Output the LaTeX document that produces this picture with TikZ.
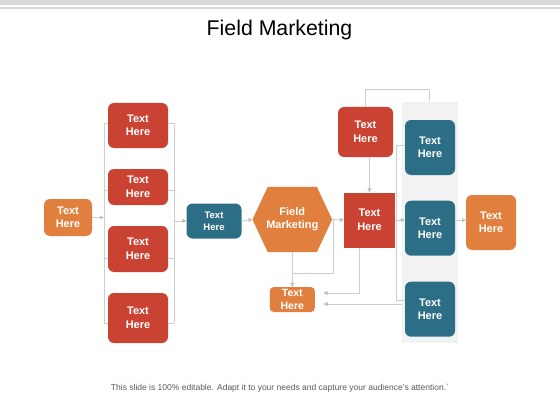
\documentclass[tikz,border=0pt]{standalone}
\usepackage{fontspec}
\setmainfont{Liberation Sans}
\usetikzlibrary{arrows.meta,calc,backgrounds}
\definecolor{cred}{RGB}{201,66,50}
\definecolor{corange}{RGB}{225,128,62}
\definecolor{cteal}{RGB}{45,110,135}
\definecolor{cline}{RGB}{205,205,205}
\definecolor{carrow}{RGB}{190,190,190}
\definecolor{cpanel}{RGB}{242,242,242}
\definecolor{cbar}{RGB}{217,217,217}
\begin{document}
\begin{tikzpicture}[x=1pt,y=-1pt,
  box/.style={rounded corners=6pt, text=white, font=\bfseries\fontsize{11}{13.5}\selectfont, align=center, inner sep=0pt},
  redbox/.style={box, fill=cred},
  orbox/.style={box, fill=corange},
  tealbox/.style={box, fill=cteal},
  conn/.style={draw=cline, line width=0.8pt},
  arr/.style={conn, -{Triangle[length=4pt,width=4pt,color=carrow]}}
]
\useasboundingbox (0,0) rectangle (560,420);
\fill[cbar] (0,0) rectangle (560,5);
\fill[cbar] (0,7.3) rectangle (560,9.3);
\node[font=\fontsize{21.3}{25}\selectfont] (title) at (279.5,29.5) {Field Marketing};

% panel
\node[fill=cpanel, minimum width=55.7pt, minimum height=241.3pt, inner sep=0pt] (panel) at (429.85,222.35) {};

% left part
\node[orbox, minimum width=48pt, minimum height=37pt] (L) at (68,217.5) {Text\\Here};
\node[redbox, minimum width=60pt, minimum height=45pt] (R1) at (138,125.5) {Text\\Here};
\node[redbox, minimum width=60pt, minimum height=36pt] (R2) at (138,187) {Text\\Here};
\node[redbox, minimum width=60pt, minimum height=46pt] (R3) at (138,249) {Text\\Here};
\node[redbox, minimum width=60pt, minimum height=50pt] (R4) at (138,318) {Text\\Here};
\node[tealbox, minimum width=55pt, minimum height=35pt, font=\bfseries\fontsize{9.5}{11.7}\selectfont] (B1) at (214,221) {Text\\Here};

% hexagon
\node[minimum width=79.3pt, minimum height=65pt, inner sep=0pt, text=white, align=center, font=\bfseries\fontsize{11}{13.3}\selectfont] (H) at (292.3,219.5) {Field\\Marketing};
\begin{scope}[on background layer]
\fill[corange] (H.west) -- ($(H.north west)+(15.3,0)$) -- ($(H.north east)+(-15.3,0)$) -- (H.east) -- ($(H.south east)+(-15.3,0)$) -- ($(H.south west)+(15.3,0)$) -- cycle;
\end{scope}

\node[orbox, rounded corners=4pt, minimum width=45pt, minimum height=25pt, font=\bfseries\fontsize{10.5}{13.3}\selectfont] (O2) at (292.3,299.5) {Text\\Here};

% right part
\node[fill=cred, text=white, font=\bfseries\fontsize{11}{13.5}\selectfont, align=center, inner sep=0pt, minimum width=51pt, minimum height=55pt] (S) at (369.5,220) {Text\\Here};
\node[redbox, minimum width=55pt, minimum height=50pt] (T) at (365.5,132) {Text\\Here};
\node[tealbox, minimum width=50pt, minimum height=55pt] (P1) at (430,147.5) {Text\\Here};
\node[tealbox, minimum width=50pt, minimum height=55pt] (P2) at (430,228.2) {Text\\Here};
\node[tealbox, minimum width=50pt, minimum height=55pt] (P3) at (430,309.2) {Text\\Here};
\node[orbox, minimum width=50pt, minimum height=55pt] (OR) at (491,222.5) {Text\\Here};

% coordinates
\coordinate (xl) at (104,0);
\coordinate (xr) at (174,0);
\coordinate (xp) at (396.7,0);
\coordinate (jy) at (0,273);

% left brackets
\draw[conn] (xl |- 0,123) -- (xl |- 0,323);
\draw[conn] (xr |- 0,123) -- (xr |- 0,323);
\draw[conn] (R1.west |- 0,123) -- (xl |- 0,123) (R1.east |- 0,123) -- (xr |- 0,123);
\draw[conn] (R2.west |- 0,190) -- (xl |- 0,190) (R2.east |- 0,190) -- (xr |- 0,190);
\draw[conn] (R3.west |- 0,258) -- (xl |- 0,258) (R3.east |- 0,258) -- (xr |- 0,258);
\draw[conn] (R4.west |- 0,323) -- (xl |- 0,323) (R4.east |- 0,323) -- (xr |- 0,323);
\draw[arr] (L.east) -- (L.east -| xl);
\draw[arr] (B1.west -| xr) -- (B1.west);

% middle
\draw[arr] (B1.east) -- (H.west);
\draw[arr] (H.east) -- (S.west);
\draw[conn] ($(H.east)+(1,0)$) |- (H.south |- jy);
\draw[arr] (H.south) -- (O2.north);
\draw[arr] (T.south -| S.north) -- (S.north);
\draw[conn] (T.north) -- ++(0,-17) -| (panel.north);
\draw[arr] ([xshift=-10.5pt]S.south) |- ($(O2.east)+(8.5,-6.5)$);
\draw[arr] (panel.west |- 0,304) -- ($(O2.east)+(8.5,4.5)$);

% panel bracket
\draw[conn] (P1.west |- 0,145) -- (xp |- 0,145) -- (xp |- 0,300) -- (P3.west |- 0,300);
\draw[arr] (S.east) -- (S.east -| P2.west);
\draw[arr] (P2.east |- S.east) -- (OR.west |- S.east);

\node[font=\fontsize{8.5}{10}\selectfont, text=black!65] (foot) at (280,388) {This slide is 100\% editable. Adapt it to your needs and capture your audience's attention.\textasciigrave};
\end{tikzpicture}
\end{document}
